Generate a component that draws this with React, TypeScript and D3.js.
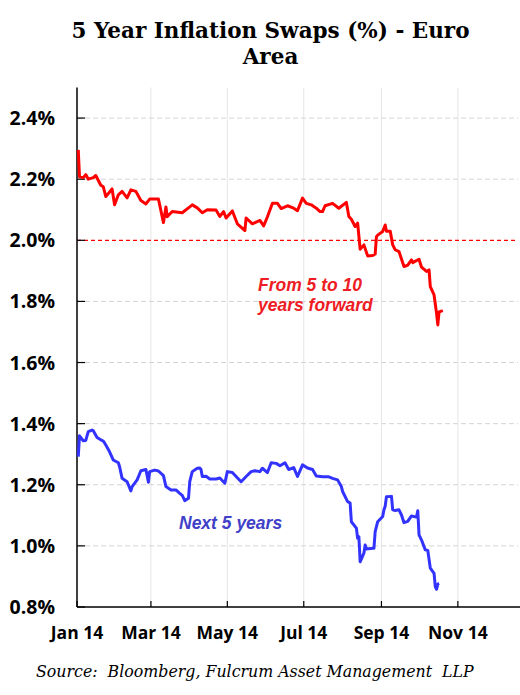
import React from "react";
import * as d3 from "d3";

const forwardSeries: [string, number][] = [
  ["2014-01-02", 2.296], ["2014-01-03", 2.208], ["2014-01-06", 2.205], ["2014-01-08", 2.215],
  ["2014-01-10", 2.2], ["2014-01-14", 2.205], ["2014-01-16", 2.212], ["2014-01-20", 2.18],
  ["2014-01-22", 2.175], ["2014-01-24", 2.143], ["2014-01-29", 2.168], ["2014-01-31", 2.116],
  ["2014-02-03", 2.149], ["2014-02-06", 2.16], ["2014-02-10", 2.139], ["2014-02-13", 2.165],
  ["2014-02-17", 2.16], ["2014-02-21", 2.13], ["2014-02-25", 2.119], ["2014-02-28", 2.135],
  ["2014-03-07", 2.135], ["2014-03-11", 2.058], ["2014-03-13", 2.109], ["2014-03-14", 2.077],
  ["2014-03-18", 2.094], ["2014-03-26", 2.09], ["2014-03-31", 2.106], ["2014-04-03", 2.116],
  ["2014-04-07", 2.106], ["2014-04-11", 2.09], ["2014-04-15", 2.1], ["2014-04-22", 2.099],
  ["2014-04-25", 2.078], ["2014-04-28", 2.094], ["2014-04-30", 2.073], ["2014-05-05", 2.096],
  ["2014-05-09", 2.054], ["2014-05-15", 2.032], ["2014-05-16", 2.073], ["2014-05-21", 2.054],
  ["2014-05-27", 2.065], ["2014-05-30", 2.047], ["2014-06-02", 2.077], ["2014-06-06", 2.121],
  ["2014-06-10", 2.121], ["2014-06-13", 2.104], ["2014-06-18", 2.113], ["2014-06-23", 2.105],
  ["2014-06-26", 2.097], ["2014-06-30", 2.138], ["2014-07-03", 2.121], ["2014-07-07", 2.116],
  ["2014-07-11", 2.105], ["2014-07-14", 2.094], ["2014-07-16", 2.094], ["2014-07-18", 2.113],
  ["2014-07-24", 2.121], ["2014-07-29", 2.105], ["2014-08-04", 2.124], ["2014-08-06", 2.078],
  ["2014-08-08", 2.069], ["2014-08-11", 2.045], ["2014-08-13", 2.056], ["2014-08-15", 1.971],
  ["2014-08-18", 1.985], ["2014-08-21", 1.949], ["2014-08-25", 1.95], ["2014-08-27", 1.955],
  ["2014-08-28", 2.011], ["2014-08-29", 2.017], ["2014-09-02", 2.029], ["2014-09-04", 2.05],
  ["2014-09-05", 2.03], ["2014-09-08", 2.03], ["2014-09-10", 1.985], ["2014-09-12", 1.969],
  ["2014-09-15", 1.963], ["2014-09-19", 1.914], ["2014-09-22", 1.919], ["2014-09-25", 1.936],
  ["2014-09-26", 1.927], ["2014-10-01", 1.938], ["2014-10-03", 1.912], ["2014-10-07", 1.898],
  ["2014-10-09", 1.903], ["2014-10-10", 1.848], ["2014-10-13", 1.821], ["2014-10-15", 1.761],
  ["2014-10-16", 1.723], ["2014-10-17", 1.766], ["2014-10-20", 1.77],
];

const next5Series: [string, number][] = [
  ["2014-01-02", 1.292], ["2014-01-03", 1.36], ["2014-01-06", 1.344], ["2014-01-08", 1.345],
  ["2014-01-10", 1.374], ["2014-01-13", 1.379], ["2014-01-14", 1.377], ["2014-01-17", 1.355],
  ["2014-01-20", 1.347], ["2014-01-22", 1.343], ["2014-01-24", 1.33], ["2014-01-27", 1.308],
  ["2014-01-30", 1.281], ["2014-02-03", 1.272], ["2014-02-04", 1.259], ["2014-02-06", 1.221],
  ["2014-02-10", 1.21], ["2014-02-13", 1.18], ["2014-02-14", 1.194], ["2014-02-18", 1.216],
  ["2014-02-21", 1.246], ["2014-02-25", 1.25], ["2014-02-27", 1.208], ["2014-02-28", 1.243],
  ["2014-03-04", 1.248], ["2014-03-07", 1.245], ["2014-03-11", 1.23], ["2014-03-13", 1.194],
  ["2014-03-17", 1.183], ["2014-03-21", 1.183], ["2014-03-24", 1.172], ["2014-03-26", 1.165],
  ["2014-03-28", 1.148], ["2014-03-31", 1.156], ["2014-04-01", 1.21], ["2014-04-03", 1.243],
  ["2014-04-07", 1.254], ["2014-04-09", 1.255], ["2014-04-10", 1.25], ["2014-04-11", 1.227],
  ["2014-04-14", 1.228], ["2014-04-17", 1.219], ["2014-04-22", 1.219], ["2014-04-25", 1.222],
  ["2014-04-29", 1.205], ["2014-05-01", 1.243], ["2014-05-05", 1.24], ["2014-05-08", 1.227],
  ["2014-05-12", 1.21], ["2014-05-16", 1.227], ["2014-05-20", 1.243], ["2014-05-23", 1.246],
  ["2014-05-27", 1.243], ["2014-05-29", 1.254], ["2014-06-02", 1.24], ["2014-06-05", 1.272],
  ["2014-06-09", 1.27], ["2014-06-12", 1.262], ["2014-06-16", 1.272], ["2014-06-19", 1.25],
  ["2014-06-23", 1.256], ["2014-06-26", 1.227], ["2014-06-30", 1.265], ["2014-07-04", 1.255],
  ["2014-07-08", 1.25], ["2014-07-11", 1.229], ["2014-07-16", 1.226], ["2014-07-21", 1.226],
  ["2014-07-24", 1.221], ["2014-07-28", 1.216], ["2014-07-31", 1.194], ["2014-08-01", 1.178],
  ["2014-08-05", 1.145], ["2014-08-07", 1.14], ["2014-08-08", 1.079], ["2014-08-12", 1.058],
  ["2014-08-13", 1.025], ["2014-08-14", 1.03], ["2014-08-15", 0.948], ["2014-08-18", 0.976],
  ["2014-08-19", 1.003], ["2014-08-20", 0.99], ["2014-08-25", 0.992], ["2014-08-26", 0.992],
  ["2014-08-27", 1.047], ["2014-08-29", 1.079], ["2014-09-02", 1.096], ["2014-09-03", 1.118],
  ["2014-09-04", 1.13], ["2014-09-05", 1.161], ["2014-09-09", 1.162], ["2014-09-10", 1.118],
  ["2014-09-12", 1.116], ["2014-09-15", 1.118], ["2014-09-17", 1.101], ["2014-09-19", 1.076],
  ["2014-09-22", 1.08], ["2014-09-25", 1.098], ["2014-09-29", 1.094], ["2014-09-30", 1.115],
  ["2014-10-01", 1.036], ["2014-10-03", 1.019], ["2014-10-06", 0.987], ["2014-10-08", 0.985],
  ["2014-10-10", 0.927], ["2014-10-13", 0.91], ["2014-10-14", 0.866], ["2014-10-15", 0.858],
  ["2014-10-16", 0.875], ["2014-10-17", 0.877],
];

const yTicks = [0.8, 1.0, 1.2, 1.4, 1.6, 1.8, 2.0, 2.2, 2.4];
const xTickDates = ["2014-01-01", "2014-03-01", "2014-05-01", "2014-07-01", "2014-09-01", "2014-11-01"];
const xTickLabels = ["Jan 14", "Mar 14", "May 14", "Jul 14", "Sep 14", "Nov 14"];
const referenceLevel = 2.0;
const xDomain = ["2014-01-01", "2014-12-19"];
const yDomain = [0.8, 2.5];

const parse = d3.timeParse("%Y-%m-%d");

export default function App() {
  const left = 77;
  const right = 518;
  const top = 87.5;
  const bottom = 607;

  const x = d3.scaleTime().domain(xDomain.map((d) => parse(d) as Date)).range([left, right]);
  const y = d3.scaleLinear().domain(yDomain).range([bottom, top]);

  const line = d3
    .line<[string, number]>()
    .x((d) => x(parse(d[0]) as Date))
    .y((d) => y(d[1]));

  const sans = "'Open Sans', sans-serif";
  const arial = "'Liberation Sans', Arial, sans-serif";

  return (
    <svg
      width={520}
      height={695}
      style={{ position: "absolute", left: 0, top: 0, background: "#fff" }}
    >
      <rect x={0} y={0} width={520} height={695} fill="#fff" />
      <text
        x={270.5}
        y={37.5}
        textAnchor="middle"
        fontFamily="'DejaVu Serif', serif"
        fontWeight="bold"
        fontSize={21.5}
      >
        5 Year Inflation Swaps (%) - Euro
      </text>
      <text
        x={270.5}
        y={63.5}
        textAnchor="middle"
        fontFamily="'DejaVu Serif', serif"
        fontWeight="bold"
        fontSize={21.5}
      >
        Area
      </text>

      {/* vertical gridlines */}
      {xTickDates.slice(1).map((d) => (
        <line
          key={"vg" + d}
          x1={x(parse(d) as Date)}
          x2={x(parse(d) as Date)}
          y1={top}
          y2={bottom}
          stroke="#e6e6e6"
          strokeWidth={1}
        />
      ))}
      {/* horizontal dashed gridlines */}
      {yTicks
        .filter((t) => t > yDomain[0] && t !== referenceLevel)
        .map((t) => (
          <line
            key={"hg" + t}
            x1={left}
            x2={right}
            y1={y(t)}
            y2={y(t)}
            stroke="#d4d4d4"
            strokeWidth={1}
            strokeDasharray="5,3"
          />
        ))}
      {/* reference red dashed line */}
      <line
        x1={left}
        x2={right}
        y1={y(referenceLevel)}
        y2={y(referenceLevel)}
        stroke="#ff0000"
        strokeWidth={1.2}
        strokeDasharray="4,3"
      />

      {/* axes */}
      <line x1={left} x2={left} y1={top} y2={bottom} stroke="#000" strokeWidth={1.5} />
      <line x1={left} x2={520} y1={bottom} y2={bottom} stroke="#000" strokeWidth={1.5} />
      {yTicks.map((t) => (
        <g key={"yt" + t}>
          <line x1={left} x2={left + 8} y1={y(t)} y2={y(t)} stroke="#000" strokeWidth={1.2} />
          <text
            x={55}
            y={y(t)}
            dy="0.36em"
            textAnchor="end"
            fontFamily={sans}
            fontWeight="bold"
            fontSize={19.5}
            fill="#000"
          >
            {d3.format(".1f")(t) + "%"}
          </text>
        </g>
      ))}
      {xTickDates.map((d, i) => (
        <g key={"xt" + d}>
          <line
            x1={x(parse(d) as Date)}
            x2={x(parse(d) as Date)}
            y1={bottom}
            y2={bottom - 6}
            stroke="#000"
            strokeWidth={1.2}
          />
          <text
            x={x(parse(d) as Date)}
            y={639}
            textAnchor="middle"
            fontFamily={sans}
            fontWeight="bold"
            fontSize={17.5}
            fill="#000"
          >
            {xTickLabels[i]}
          </text>
        </g>
      ))}

      {/* series */}
      <path
        d={line(forwardSeries) || ""}
        fill="none"
        stroke="#ff0000"
        strokeWidth={3}
        strokeLinejoin="round"
      />
      <path
        d={line(next5Series) || ""}
        fill="none"
        stroke="#3333ff"
        strokeWidth={3}
        strokeLinejoin="round"
      />

      {/* annotations */}
      <text x={258} y={290.5} fontFamily={arial} fontWeight="bold" fontStyle="italic" fontSize={17.5} fill="#ee1c24">
        From 5 to 10
      </text>
      <text x={258} y={311} fontFamily={arial} fontWeight="bold" fontStyle="italic" fontSize={17.5} fill="#ee1c24">
        years forward
      </text>
      <text x={179} y={528.5} fontFamily={arial} fontWeight="bold" fontStyle="italic" fontSize={17.5} fill="#4040c8">
        Next 5 years
      </text>

      <text
        x={36}
        y={677}
        fontFamily="'DejaVu Serif', serif"
        fontStyle="italic"
        fontSize={15.8}
        fill="#000"
        style={{ whiteSpace: "pre" }}
      >
        {"Source:  Bloomberg, Fulcrum Asset Management  LLP"}
      </text>
    </svg>
  );
}
